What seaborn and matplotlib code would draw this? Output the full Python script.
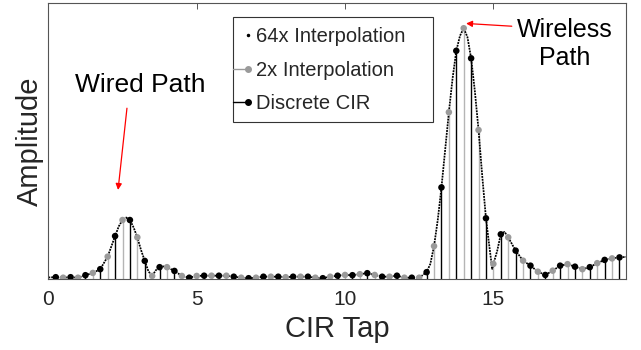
import numpy as np
import pandas as pd
import matplotlib
matplotlib.use("Agg")
import matplotlib.pyplot as plt
import seaborn as sns
from matplotlib.lines import Line2D
from matplotlib.patches import Rectangle
from matplotlib.legend_handler import HandlerBase

# ---------------- data ----------------
discrete_tap = [0.25, 0.75, 1.25, 1.75, 2.25, 2.75, 3.25, 3.75, 4.25, 4.75,
                5.25, 5.75, 6.25, 6.75, 7.25, 7.75, 8.25, 8.75, 9.25, 9.75,
                10.25, 10.75, 11.25, 11.75, 12.25, 12.75, 13.25, 13.75, 14.25, 14.75,
                15.25, 15.75, 16.25, 16.75, 17.25, 17.75, 18.25, 18.75, 19.25]
discrete_amp = [0.007, 0.007, 0.015, 0.039, 0.171, 0.235, 0.072, 0.047, 0.032, 0.005,
                0.013, 0.013, 0.009, 0.003, 0.009, 0.009, 0.009, 0.009, 0.003, 0.013,
                0.015, 0.023, 0.009, 0.013, 0.005, 0.027, 0.365, 0.910, 0.880, 0.242,
                0.178, 0.113, 0.053, 0.016, 0.053, 0.049, 0.047, 0.076, 0.086]

interp_tap = [0.5, 1.0, 1.5, 2.0, 2.5, 3.0, 3.5, 4.0, 4.5, 5.0,
              5.5, 6.0, 6.5, 7.0, 7.5, 8.0, 8.5, 9.0, 9.5, 10.0,
              10.5, 11.0, 11.5, 12.0, 12.5, 13.0, 13.5, 14.0, 14.5, 15.0,
              15.5, 16.0, 16.5, 17.0, 17.5, 18.0, 18.5, 19.0]
interp_amp = [0.005, 0.005, 0.024, 0.089, 0.235, 0.166, 0.012, 0.047, 0.012, 0.012,
              0.013, 0.013, 0.005, 0.005, 0.009, 0.007, 0.009, 0.005, 0.009, 0.016,
              0.019, 0.016, 0.009, 0.005, 0.005, 0.131, 0.665, 1.000, 0.594, 0.060,
              0.166, 0.073, 0.029, 0.033, 0.059, 0.039, 0.063, 0.082]

fine_tap = [0.0, 2.125, 2.375, 2.625, 2.875, 3.125, 3.375, 3.625, 3.875,
            12.875, 13.125, 13.375, 13.625, 13.875, 14.125, 14.375, 14.625,
            14.875, 14.96, 15.125, 15.375, 19.47]
fine_amp = [0.006, 0.13, 0.21, 0.245, 0.205, 0.115, 0.03, 0.035, 0.05,
            0.06, 0.235, 0.515, 0.80, 0.97, 0.965, 0.75, 0.41,
            0.12, 0.04, 0.11, 0.188, 0.088]

x_ticks = [0, 5, 10, 15]
legend_labels = ["64x Interpolation", "2x Interpolation", "Discrete CIR"]

# ---------------- style ----------------
sns.set_theme(style="white")
plt.rcParams["font.family"] = ["Liberation Sans", "DejaVu Sans"]

curve = pd.DataFrame({"tap": discrete_tap + interp_tap + fine_tap,
                      "amp": discrete_amp + interp_amp + fine_amp}).sort_values("tap")

fig = plt.figure(figsize=(6.41, 3.5), dpi=100)
ax = fig.add_axes([0.0754, 0.203, 0.9012, 0.788])

gray_dot = "#9a9a9a"
gray_stem = "#b5b5b5"

ax.vlines(interp_tap, 0, interp_amp, color=gray_stem, lw=1.0, zorder=1)
ax.vlines(discrete_tap, 0, discrete_amp, color="black", lw=1.0, zorder=1)

sns.lineplot(data=curve, x="tap", y="amp", ax=ax, color="black", lw=1.25,
             linestyle=(0, (1.1, 0.55)), sort=False, estimator=None, zorder=2)
sns.scatterplot(x=interp_tap, y=interp_amp, ax=ax, color=gray_dot, s=22,
                edgecolor="none", zorder=3)
sns.scatterplot(x=discrete_tap, y=discrete_amp, ax=ax, color="black", s=22,
                edgecolor="none", zorder=4)

ax.set_xlim(0, 19.47)
ax.set_ylim(0, 1.1)
ax.set_xticks(x_ticks)
ax.set_xticklabels([str(v) for v in x_ticks])
ax.set_yticks([])
ax.tick_params(axis="x", direction="in", top=True, bottom=True, length=4,
               width=0.7, color="#555555", labelsize=15, pad=8, labelcolor="#262626")
for sp in ax.spines.values():
    sp.set_color("#555555")
    sp.set_linewidth(0.8)
ax.set_xlabel("CIR Tap", fontsize=21, color="#262626", labelpad=4)
ax.set_ylabel("Amplitude", fontsize=21, color="#262626", labelpad=3)

# annotations
ax.text(3.09, 0.773, "Wired Path", fontsize=19, ha="center", va="center", color="black")
ax.annotate("", xy=(2.35, 0.355), xytext=(2.65, 0.681),
            arrowprops=dict(arrowstyle="-|>", color="red", lw=0.9, mutation_scale=9,
                            shrinkA=0, shrinkB=0))
ax.text(17.42, 0.938, "Wireless\nPath", fontsize=18, ha="center", va="center",
        color="black", linespacing=1.2)
ax.annotate("", xy=(14.08, 1.019), xytext=(15.62, 1.008),
            arrowprops=dict(arrowstyle="-|>", color="red", lw=0.9, mutation_scale=9,
                            shrinkA=0, shrinkB=0))

LEG_FS = 14.5
LEG_PAD = 0.5


# legend handle: short line starting at the box edge, marker at its right end
class EndMarkerHandler(HandlerBase):
    def __init__(self, color, show_line, msize):
        super().__init__()
        self.color = color
        self.show_line = show_line
        self.msize = msize

    def create_artists(self, legend, orig_handle, xdescent, ydescent, width,
                       height, fontsize, trans):
        y = (height - ydescent) / 2.0
        x0 = -xdescent - LEG_PAD * fontsize
        x1 = -xdescent + width
        arts = []
        if self.show_line:
            arts.append(Line2D([x0, x1], [y, y], color=self.color, lw=1.0, transform=trans))
        arts.append(Line2D([x1], [y], marker="o", ms=self.msize, color=self.color,
                           ls="none", transform=trans))
        return arts


h1 = Line2D([], [])
h2 = Line2D([], [])
h3 = Line2D([], [])
leg = ax.legend([h1, h2, h3], legend_labels,
                handler_map={h1: EndMarkerHandler("black", False, 1.5),
                             h2: EndMarkerHandler(gray_dot, True, 4),
                             h3: EndMarkerHandler("black", True, 4)},
                loc="upper left", bbox_to_anchor=(0.3197, 0.9493), borderaxespad=0,
                fontsize=LEG_FS, frameon=False, handlelength=0.25, handletextpad=0.4,
                labelspacing=0.72, borderpad=LEG_PAD)
leg.set_zorder(6)
# legend frame box
ax.add_patch(Rectangle((0.3197, 0.5688), 0.3462, 0.3805, transform=ax.transAxes,
                       facecolor="white", edgecolor="#333333", lw=0.8, zorder=5))

fig.savefig("out.png", dpi=100)
